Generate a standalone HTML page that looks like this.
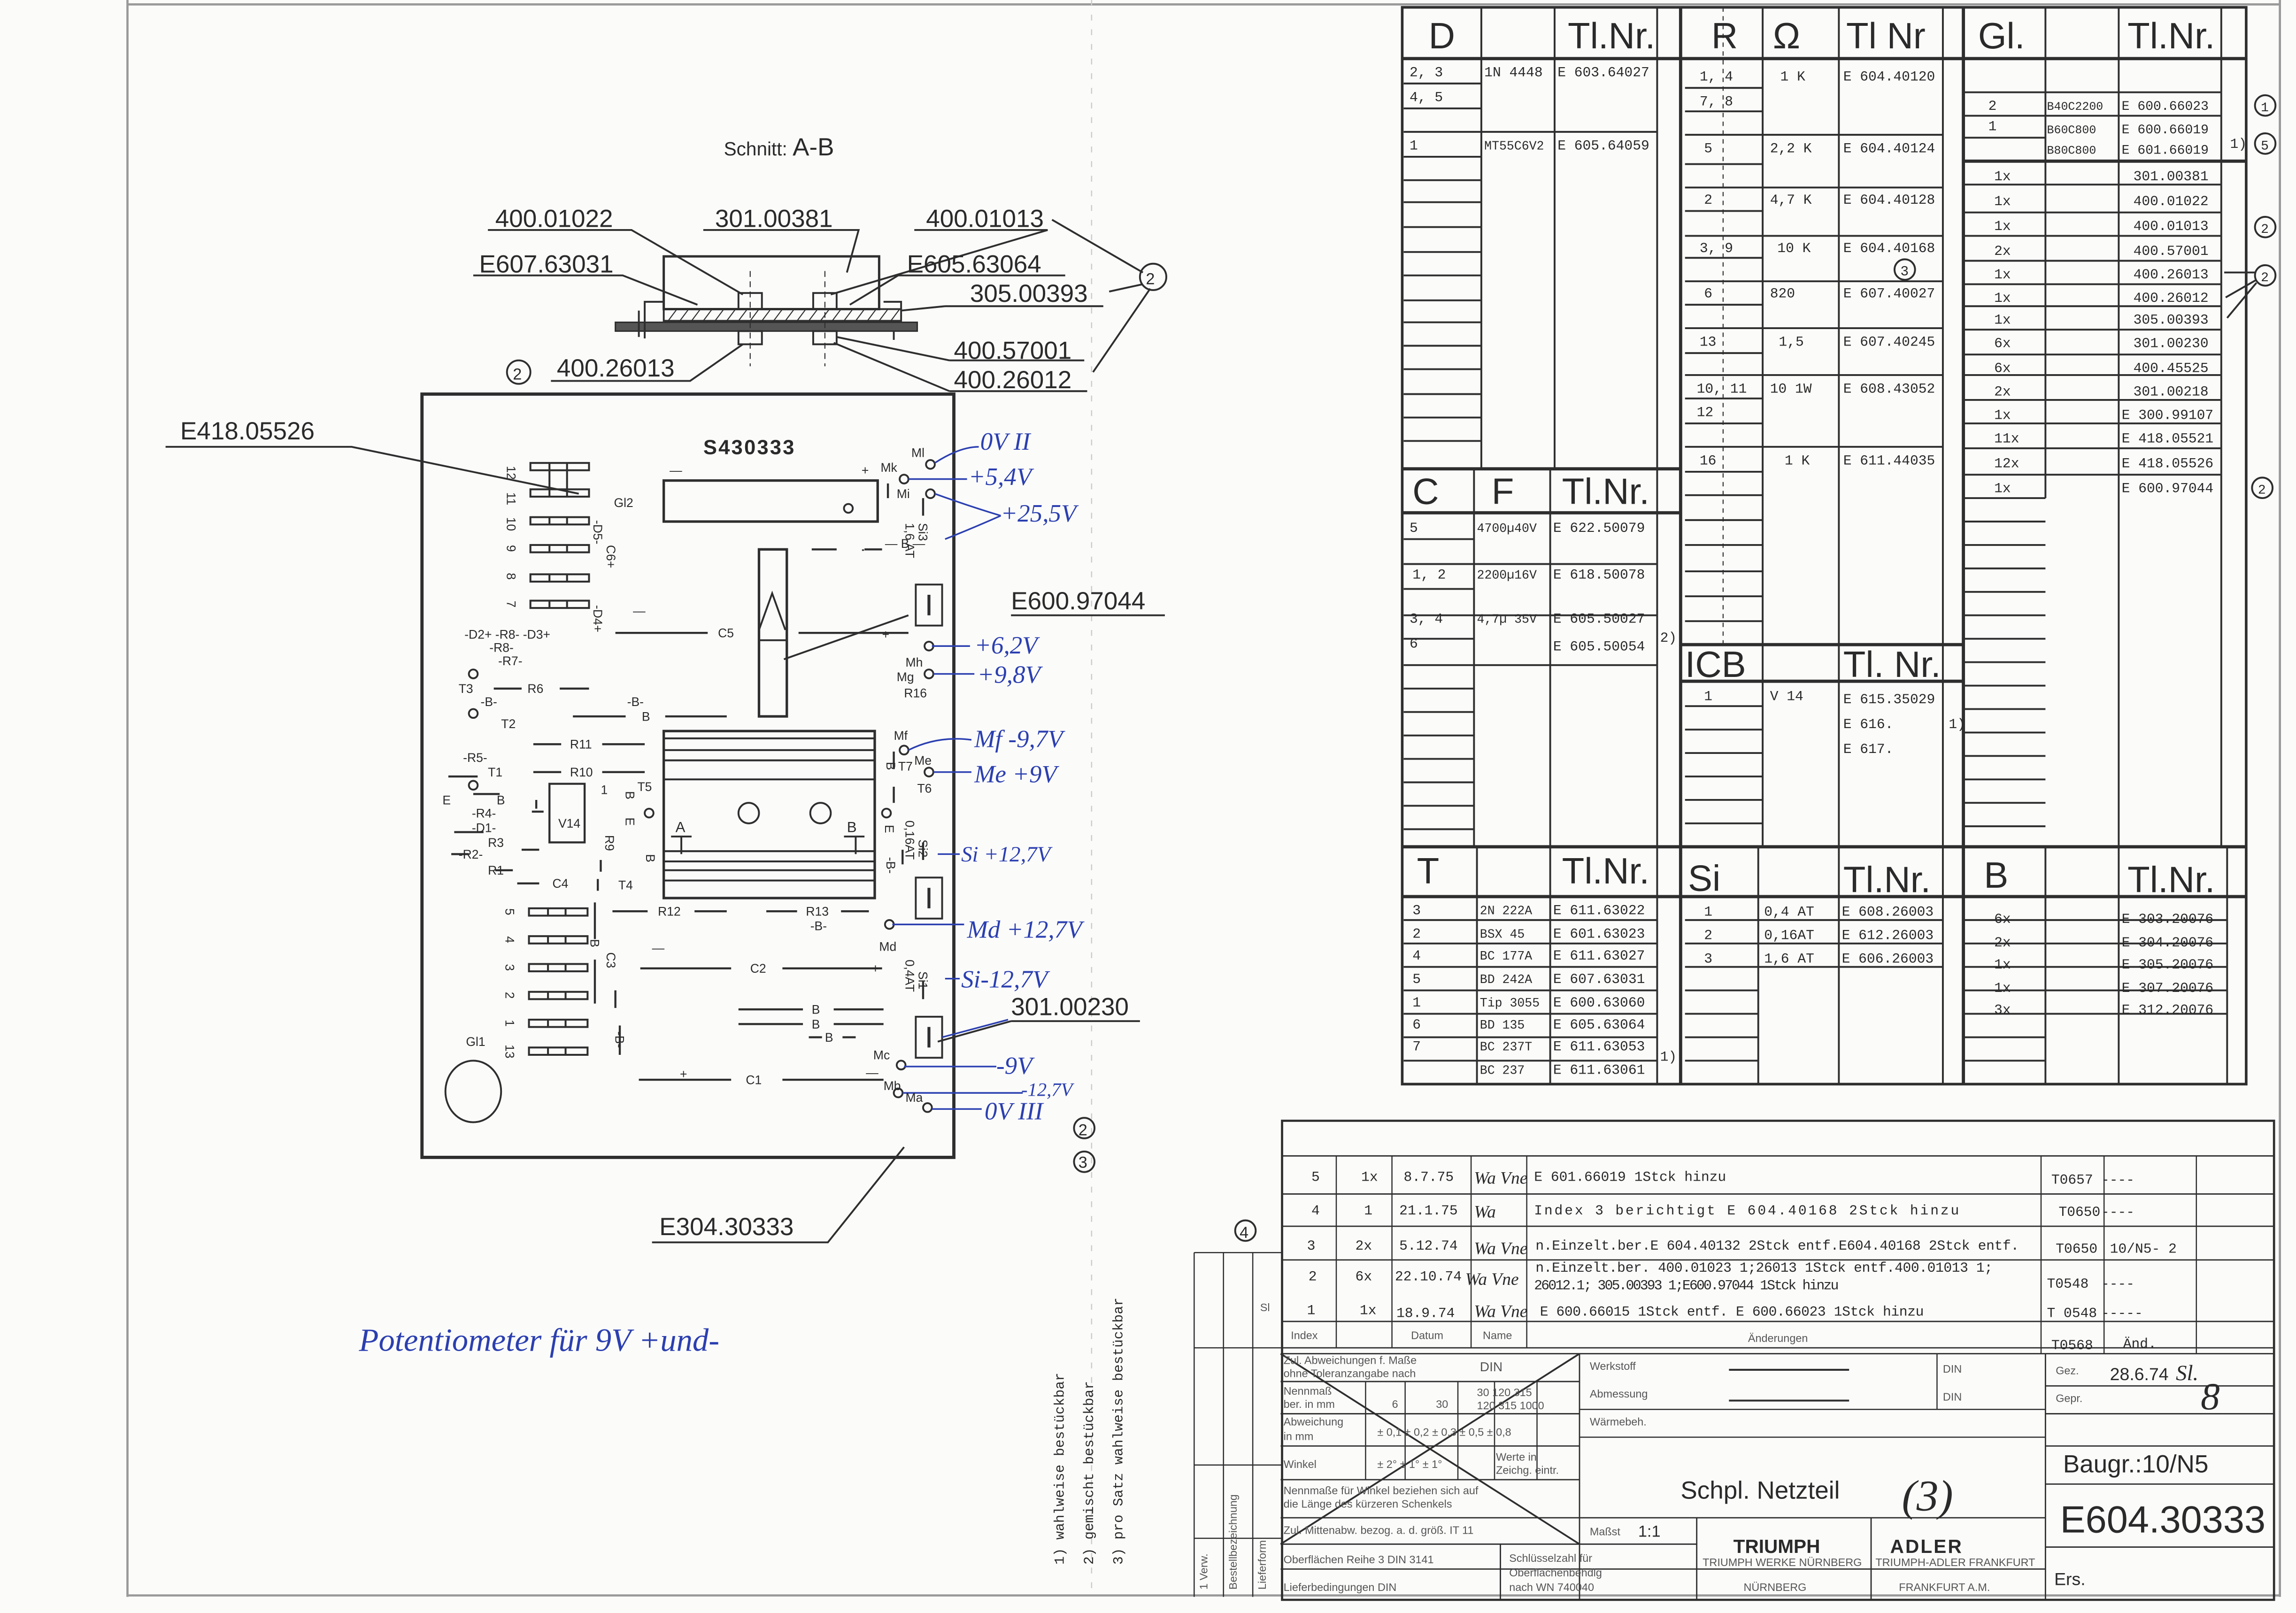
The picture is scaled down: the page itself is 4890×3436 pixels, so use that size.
<!DOCTYPE html>
<html><head><meta charset="utf-8"><style>
html,body{margin:0;padding:0;background:#fbfbfa;}
svg{display:block}
text{font-family:"Liberation Sans",sans-serif;fill:#2a2a2a}
.m text,text.m{font-family:"Liberation Mono",monospace}
.m{font-size:9.5px}
.h{font-size:25px}
.b text{fill:#2b3fb0;font-family:"Liberation Serif",serif;font-style:italic}
.s{font-size:7.5px}
.s text{fill:#555}
.ser text{font-family:"Liberation Serif",serif;font-style:italic}
</style></head><body>
<svg width="4890" height="3436" viewBox="0 0 1567 1101" preserveAspectRatio="none" xmlns="http://www.w3.org/2000/svg">
<rect width="1567" height="1101" fill="#fbfbfa"/>
<g fill="none" stroke="#2e2e2e" stroke-width="1.25">
<path d="M87 0V1090M87 1089H1556M1556 0V1090M87 3H1556" stroke="#999" stroke-width="1.5"/>
<path d="M745 0V1088" stroke="#ccc" stroke-width="0.8" stroke-dasharray="4 6"/>
<rect x="957" y="5" width="576" height="735" stroke-width="1.8"/>
<path d="M957 40H1533M1147 5V740M1340 5V740M957 320H1147M1147 440H1340M957 578H1533M1340 110H1533" stroke-width="2.2"/>
<path d="M1011 5V320M1061 5V320M1131 5V320"/>
<path d="M958 57H1011M958 74H1011M958 90H1131M958 107H1011M958 123H1011M958 138H1011M958 155H1011M958 172H1011M958 188H1011M958 205H1011M958 220H1011M958 236H1011M958 252H1011M958 269H1011M958 285H1011M958 301H1011"/>
<path d="M1176 5V440" stroke-dasharray="3 3" stroke-width="0.7"/>
<path d="M1203 5V440M1255 5V440M1326 5V440"/>
<path d="M1150 92H1326M1150 128H1326M1150 161H1326M1150 192H1326M1150 224H1326M1150 256H1326M1150 305H1326"/>
<path d="M1150 60H1203M1150 76H1203M1150 112H1203M1150 144H1203M1150 176H1203M1150 208H1203M1150 241H1203M1150 272H1203M1150 289H1203M1150 322H1203M1150 338H1203M1150 355H1203M1150 372H1203M1150 390H1203M1150 407H1203M1150 424H1203"/>
<path d="M1396 5V340M1446 5V578M1516 5V578"/>
<path d="M1340 63H1516M1340 79H1516M1340 94H1396M1340 126H1516M1340 145H1516M1340 161H1516M1340 178H1516M1340 194H1516M1340 209H1516M1340 225H1516M1340 242H1516M1340 256H1516M1340 273H1516M1340 289H1516M1340 306H1516M1340 324H1516M1340 340H1396"/>
<path d="M1340 356H1396M1340 372H1396M1340 388H1396M1340 404H1396M1340 420H1396M1340 436H1396M1340 452H1396M1340 468H1396M1340 484H1396M1340 500H1396M1340 516H1396M1340 532H1396M1340 548H1396M1340 564H1396"/>
<path d="M957 350H1147" stroke-width="2.2"/>
<path d="M1006 320V578M1058 320V578M1131 320V578"/>
<path d="M958 368H1006M958 385H1131M958 402H1006M958 420H1131M958 436H1006M958 454H1131M958 470H1006M958 486H1006M958 502H1006M958 518H1006M958 534H1006M958 550H1006M958 566H1006"/>
<path d="M1147 465H1340" stroke-width="2.2"/>
<path d="M1203 440V578M1255 440V578M1326 440V578"/>
<path d="M1150 482H1203M1150 498H1203M1150 514H1203M1150 530H1203M1150 546H1203M1150 562H1203"/>
<path d="M957 612H1533" stroke-width="2.2"/>
<path d="M1008 578V740M1058 578V740M1131 578V740M1200 578V740M1255 578V740M1326 578V740M1396 578V740M1446 578V740M1520 578V740"/>
<path d="M958 628H1131M958 644H1131M958 660H1131M958 676H1131M958 692H1131M958 708H1131M958 724H1131"/>
<path d="M1150 628H1326M1150 644H1326M1150 660H1326M1150 676H1200M1150 692H1200M1150 708H1200M1150 724H1200"/>
<path d="M1340 628H1520M1340 644H1520M1340 660H1520M1340 676H1520M1340 692H1520M1340 708H1396M1340 724H1396"/>
<circle cx="1546" cy="72" r="7"/><circle cx="1546" cy="98" r="7"/><circle cx="1546" cy="155" r="7"/><circle cx="1546" cy="188" r="7"/><circle cx="1544" cy="333" r="7"/><circle cx="1300" cy="184" r="7"/>
<path d="M1518 186H1539M1519 203L1540 191M1520 217L1540 193"/>
<path d="M875 765H1552V1092H875Z" stroke-width="1.5"/>
<path d="M875 789H1552M875 815H1552M875 837H1552M875 860H1552M875 902H1552M875 920H1552M875 924H1552" stroke-width="0.9"/>
<path d="M912 789V920M950 789V920M1004 789V920M1042 789V920M1393 789V924M1436 789V924M1499 789V924" stroke-width="0.8"/>
<path d="M874 924L1078 1054M1078 924L874 1054" stroke-width="1.2"/>
<path d="M1078 924V1092M874 943H1078M874 965H1078M874 987H1078M874 1010H1078M874 1036H1396M874 1054H1158M874 1071H1158" stroke-width="0.9"/>
<path d="M932 943V1010M959 943V1010M995 943V1010M1020 943V1010M1049 943V1010" stroke-width="0.8"/>
<path d="M1078 962H1396M1078 981H1396M1322 924V962" stroke-width="0.8"/>
<path d="M1180 935H1262M1180 956H1262" stroke-width="1.3"/>
<path d="M1024 1054V1092M1158 1036V1092M1277 1036V1092M1396 924V1092M1158 1071H1396" stroke-width="0.9"/>
<path d="M1396 946H1552M1396 965H1552M1396 987H1552M1396 1013H1552M1396 1056H1552" stroke-width="0.9"/>
<path d="M815 855H875M815 855V1090M835 855V1090M855 855V1090M815 920H875M815 1000H875M815 1050H875" stroke-width="0.8"/>
<circle cx="850" cy="840" r="7"/>
<rect x="453" y="175" width="147" height="36" stroke-width="1.6"/>
<rect x="453" y="211" width="162" height="8"/>
<path d="M456 219l6-8M464 219l6-8M472 219l6-8M480 219l6-8M488 219l6-8M496 219l6-8M504 219l6-8M512 219l6-8M520 219l6-8M528 219l6-8M536 219l6-8M544 219l6-8M552 219l6-8M560 219l6-8M568 219l6-8M576 219l6-8M584 219l6-8M592 219l6-8M600 219l6-8M608 219l6-8" stroke-width="0.7"/>
<rect x="420" y="220" width="206" height="6" fill="#555" stroke-width="1"/>
<path d="M453 206H440V231M436 212V230M603 206H615V212M610 226V232"/>
<rect x="504" y="200" width="16" height="11"/><rect x="555" y="200" width="16" height="11"/>
<rect x="504" y="226" width="16" height="9"/><rect x="555" y="226" width="16" height="9"/>
<path d="M512 185V250M563 185V250" stroke-dasharray="4 3" stroke-width="0.7"/>
<path d="M333 157H431L507 201M480 157H586L578 186M624 157H715L567 201M718 150L780 186M323 188H425L476 208M613 188H727M613 188L580 208M645 209H753M645 209L615 212M757 199L780 194M648 246H740M648 246L571 230M648 267H742M648 267L569 234M746 254L785 197M376 260H471L507 235"/>
<circle cx="787" cy="189" r="9"/><circle cx="354" cy="254" r="8"/>
<rect x="288" y="269" width="363" height="521" stroke-width="2.2"/>
<rect x="453" y="328" width="146" height="28" stroke-width="1.7"/>
<circle cx="579" cy="347" r="3"/>
<rect x="518" y="375" width="19" height="114" stroke-width="1.7"/>
<path d="M518 430L527 405L536 430M518 437H537"/>
<rect x="453" y="499" width="144" height="114" stroke-width="1.7"/>
<path d="M453 504H597M453 512H597M453 519H597M453 532H597M453 581H597M453 588H597M453 594H597M453 601H597" stroke-width="1.3"/>
<circle cx="511" cy="555" r="7"/><circle cx="560" cy="555" r="7"/>
<path d="M458 571H472M576 571H590M465 583V571M584 583V571"/>
<g stroke-width="1.3">
<rect x="362" y="316" width="40" height="5"/><rect x="362" y="334" width="40" height="5"/><rect x="362" y="353" width="40" height="5"/><rect x="362" y="372" width="40" height="5"/><rect x="362" y="392" width="40" height="5"/><rect x="362" y="410" width="40" height="5"/>
<rect x="361" y="620" width="40" height="5"/><rect x="361" y="639" width="40" height="5"/><rect x="361" y="658" width="40" height="5"/><rect x="361" y="677" width="40" height="5"/><rect x="361" y="696" width="40" height="5"/><rect x="361" y="715" width="40" height="5"/>
<path d="M375 316v23M387 316v23M375 353v5M387 353v5M375 372v5M387 372v5M375 392v5M387 392v5M375 410v5M387 410v5M374 620v5M386 620v5M374 639v5M386 639v5M374 658v5M386 658v5M374 677v5M386 677v5M374 696v5M386 696v5M374 715v5M386 715v5"/>
</g>
<ellipse cx="323" cy="745" rx="19" ry="21"/>
<rect x="625" y="399" width="18" height="28"/><rect x="625" y="599" width="18" height="28"/><rect x="625" y="694" width="18" height="28"/>
<path d="M634 406V420M634 606V620M634 701V715" stroke-width="2"/>
<circle cx="635" cy="317" r="3"/><circle cx="617" cy="327" r="3"/><circle cx="635" cy="337" r="3"/><circle cx="634" cy="441" r="3"/><circle cx="634" cy="460" r="3"/><circle cx="617" cy="512" r="3"/><circle cx="634" cy="527" r="3"/><circle cx="607" cy="631" r="3"/><circle cx="615" cy="727" r="3"/><circle cx="613" cy="746" r="3"/><circle cx="633" cy="756" r="3"/>
<circle cx="443" cy="555" r="3"/><circle cx="605" cy="555" r="3"/><circle cx="323" cy="460" r="3"/><circle cx="323" cy="487" r="3"/><circle cx="323" cy="536" r="3"/>
<g stroke-width="1.4">
<path d="M420 432H483M545 432H620M337 470H356M382 470H402M364 508H383M411 508H440M364 527H383M411 527H440M437 661H499M534 661H602M436 737H499M534 737H603M418 622H442M474 622H496M523 622H544M574 622H593M504 689H548M569 689H603M504 699H548M569 699H603M552 708H561M575 708H584M554 375H571M590 375H602M391 489H427M454 489H496M353 603H368M406 616V641M406 655V685M420 676V688M423 700V720M630 340V352M630 575V587M630 670V682M606 330V340M589 375V376M306 530H326M310 568H330M308 583H320M338 594H350M356 580H368M323 542H341M363 554H371M366 546V552"/>
<path d="M375 535H399V575H375ZM410 587V595M408 600V608M610 513V525M610 537V548M616 580V590"/>
</g>
<path d="M620 420L535 450M690 420H795M690 697H778M690 697L640 711M113 305H240L395 337M445 848H565L617 783"/>
<circle cx="740" cy="770" r="7"/><circle cx="740" cy="793" r="7"/>
</g>
<g fill="none" stroke="#2b3fb0" stroke-width="1.1">
<path d="M638 316Q655 305 668 305M620 327H660M638 337Q660 345 683 352M645 368Q665 360 683 352M636 441H662M637 460H665M620 512Q640 502 663 505M637 527H663M640 583H655M609 631H658M645 668H655M643 708L688 696M617 728H680M616 746H698M636 757H670"/>
</g>
<g>
<text x="494" y="106" font-size="13">Schnitt: <tspan font-size="17">A-B</tspan></text>
<text x="338" y="155" font-size="17">400.01022</text>
<text x="488" y="155" font-size="17">301.00381</text>
<text x="632" y="155" font-size="17">400.01013</text>
<text x="327" y="186" font-size="17">E607.63031</text>
<text x="619" y="186" font-size="17">E605.63064</text>
<text x="662" y="206" font-size="17">305.00393</text>
<text x="651" y="245" font-size="17">400.57001</text>
<text x="651" y="265" font-size="17">400.26012</text>
<text x="380" y="257" font-size="17">400.26013</text>
<text x="782" y="194" font-size="11">2</text>
<text x="350" y="259" font-size="11">2</text>
<text x="123" y="300" font-size="17">E418.05526</text>
<text x="690" y="416" font-size="17">E600.97044</text>
<text x="690" y="693" font-size="17">301.00230</text>
<text x="450" y="843" font-size="17">E304.30333</text>
<text x="736" y="775" font-size="11">2</text><text x="736" y="797" font-size="11">3</text><text x="846" y="845" font-size="11">4</text>
<text x="480" y="310" font-size="14" font-weight="bold" letter-spacing="1">S430333</text>
<g font-size="8.5">
<text x="457" y="324">—</text><text x="588" y="324">+</text>
<text x="419" y="346">Gl2</text><text x="318" y="714">Gl1</text>
<text x="604" y="374">— B —</text>
<text x="602" y="436">+</text><text x="490" y="435">C5</text><text x="432" y="420">—</text>
<text x="317" y="436">-D2+ -R8- -D3+</text><text x="334" y="445">-R8-</text><text x="340" y="454">-R7-</text>
<text x="360" y="473">R6</text><text x="313" y="473">T3</text><text x="328" y="482">-B-</text><text x="342" y="497">T2</text>
<text x="428" y="482">-B-</text><text x="438" y="492">B</text>
<text x="389" y="511">R11</text><text x="389" y="530">R10</text>
<text x="316" y="520">-R5-</text><text x="333" y="530">T1</text><text x="302" y="549">E</text><text x="339" y="549">B</text>
<text x="322" y="558">-R4-</text><text x="322" y="568">-D1-</text><text x="333" y="578">R3</text><text x="313" y="586">-R2-</text><text x="333" y="597">R1</text>
<text x="377" y="606">C4</text><text x="381" y="565">V14</text><text x="435" y="540">T5</text><text x="410" y="542">1</text>
<text x="422" y="607">T4</text><text x="449" y="625">R12</text><text x="550" y="625">R13</text><text x="553" y="635">-B-</text>
<text x="512" y="664">C2</text><text x="554" y="692">B</text><text x="554" y="702">B</text><text x="563" y="711">B</text><text x="509" y="740">C1</text>
<text x="600" y="649">Md</text><text x="596" y="723">Mc</text><text x="603" y="744">Mb</text><text x="618" y="752">Ma</text>
<text x="622" y="312">Ml</text><text x="601" y="322">Mk</text><text x="612" y="340">Mi</text><text x="618" y="455">Mh</text><text x="612" y="465">Mg</text><text x="617" y="476">R16</text>
<text x="610" y="505">Mf</text><text x="613" y="526">T7</text><text x="624" y="522">Me</text><text x="626" y="541">T6</text>
<text x="461" y="568" font-size="10">A</text><text x="578" y="568" font-size="10">B</text>
<text x="464" y="736">+</text><text x="591" y="735">—</text><text x="595" y="664">+</text><text x="445" y="650">—</text>
</g>
<g font-size="8.5">
<text transform="translate(346,318) rotate(90)">12</text><text transform="translate(346,336) rotate(90)">11</text><text transform="translate(346,353) rotate(90)">10</text><text transform="translate(346,372) rotate(90)">9</text><text transform="translate(346,391) rotate(90)">8</text><text transform="translate(346,410) rotate(90)">7</text>
<text transform="translate(345,620) rotate(90)">5</text><text transform="translate(345,639) rotate(90)">4</text><text transform="translate(345,658) rotate(90)">3</text><text transform="translate(345,677) rotate(90)">2</text><text transform="translate(345,696) rotate(90)">1</text><text transform="translate(345,713) rotate(90)">13</text>
<text transform="translate(405,355) rotate(90)">-D5-</text><text transform="translate(414,372) rotate(90)">C6+</text><text transform="translate(405,413) rotate(90)">-D4+</text>
<text transform="translate(414,650) rotate(90)">C3</text><text transform="translate(403,641) rotate(90)">B</text><text transform="translate(420,704) rotate(90)">-B-</text>
<text transform="translate(427,540) rotate(90)">B</text><text transform="translate(427,558) rotate(90)">E</text><text transform="translate(413,570) rotate(90)">R9</text><text transform="translate(441,583) rotate(90)">B</text>
<text transform="translate(605,520) rotate(90)">B</text><text transform="translate(605,585) rotate(90)">-B-</text><text transform="translate(604,563) rotate(90)">E</text>
<text transform="translate(627,357) rotate(90)">Si3</text><text transform="translate(618,357) rotate(90)">1,6 AT</text>
<text transform="translate(627,573) rotate(90)">Si2</text><text transform="translate(618,560) rotate(90)">0,16AT</text>
<text transform="translate(627,663) rotate(90)">Si1</text><text transform="translate(618,655) rotate(90)">0,4AT</text>
</g>
<g class="b" font-size="17">
<text x="669" y="307">0V II</text><text x="661" y="331">+5,4V</text><text x="683" y="356">+25,5V</text>
<text x="665" y="446">+6,2V</text><text x="667" y="466">+9,8V</text><text x="665" y="510">Mf -9,7V</text><text x="665" y="534">Me +9V</text>
<text x="656" y="588" font-size="15">Si +12,7V</text><text x="660" y="640">Md +12,7V</text><text x="656" y="674">Si-12,7V</text>
<text x="680" y="733">-9V</text><text x="697" y="748" font-size="13">-12,7V</text><text x="672" y="764">0V III</text>
<text x="245" y="922" font-size="22">Potentiometer für    9V +und-</text>
</g>
<g class="m" font-size="10">
<text transform="translate(726,1068) rotate(-90)">1) wahlweise bestückbar</text>
<text transform="translate(746,1068) rotate(-90)">2) gemischt bestückbar</text>
<text transform="translate(766,1068) rotate(-90)">3) pro Satz wahlweise bestückbar</text>
</g>
<g class="h">
<text x="975" y="33">D</text><text x="1070" y="33">Tl.Nr.</text><text x="1168" y="33">R</text><text x="1210" y="33">Ω</text><text x="1260" y="33">Tl Nr</text><text x="1350" y="33">Gl.</text><text x="1452" y="33">Tl.Nr.</text>
<text x="964" y="344">C</text><text x="1018" y="344">F</text><text x="1066" y="344">Tl.Nr.</text>
<text x="1150" y="462">ICB</text><text x="1258" y="462">Tl. Nr.</text>
<text x="967" y="603">T</text><text x="1066" y="603">Tl.Nr.</text><text x="1152" y="608">Si</text><text x="1258" y="609">Tl.Nr.</text><text x="1354" y="606">B</text><text x="1452" y="609">Tl.Nr.</text>
</g>
<g class="m">
<text x="962" y="52">2, 3</text><text x="1013" y="52">1N 4448</text><text x="1063" y="52">E 603.64027</text>
<text x="962" y="69">4, 5</text><text x="962" y="102">1</text><text x="1013" y="102" font-size="8.5">MT55C6V2</text><text x="1063" y="102">E 605.64059</text>
<text x="1160" y="55">1, 4</text><text x="1215" y="55">1 K</text><text x="1258" y="55">E 604.40120</text><text x="1160" y="72">7, 8</text>
<text x="1163" y="104">5</text><text x="1208" y="104">2,2 K</text><text x="1258" y="104">E 604.40124</text>
<text x="1163" y="139">2</text><text x="1208" y="139">4,7 K</text><text x="1258" y="139">E 604.40128</text>
<text x="1160" y="172">3, 9</text><text x="1213" y="172">10 K</text><text x="1258" y="172">E 604.40168</text><text x="1297" y="188">3</text>
<text x="1163" y="203">6</text><text x="1208" y="203">820</text><text x="1258" y="203">E 607.40027</text>
<text x="1160" y="236">13</text><text x="1214" y="236">1,5</text><text x="1258" y="236">E 607.40245</text>
<text x="1158" y="268">10, 11</text><text x="1208" y="268">10  1W</text><text x="1258" y="268">E 608.43052</text><text x="1158" y="284">12</text>
<text x="1160" y="317">16</text><text x="1218" y="317">1 K</text><text x="1258" y="317">E 611.44035</text>
<text x="1357" y="75">2</text><text x="1397" y="75" font-size="8">B40C2200</text><text x="1448" y="75" font-size="9">E 600.66023</text>
<text x="1357" y="89">1</text><text x="1397" y="91" font-size="8">B60C800</text><text x="1448" y="91" font-size="9">E 600.66019</text><text x="1397" y="105" font-size="8">B80C800</text><text x="1448" y="105" font-size="9">E 601.66019</text><text x="1522" y="101">1)</text>
<text x="1361" y="123">1x</text><text x="1456" y="123">301.00381</text>
<text x="1361" y="140">1x</text><text x="1456" y="140">400.01022</text>
<text x="1361" y="157">1x</text><text x="1456" y="157">400.01013</text>
<text x="1361" y="174">2x</text><text x="1456" y="174">400.57001</text>
<text x="1361" y="190">1x</text><text x="1456" y="190">400.26013</text>
<text x="1361" y="206">1x</text><text x="1456" y="206">400.26012</text>
<text x="1361" y="221">1x</text><text x="1456" y="221">305.00393</text>
<text x="1361" y="237">6x</text><text x="1456" y="237">301.00230</text>
<text x="1361" y="254">6x</text><text x="1456" y="254">400.45525</text>
<text x="1361" y="270">2x</text><text x="1456" y="270">301.00218</text>
<text x="1361" y="286">1x</text><text x="1448" y="286">E 300.99107</text>
<text x="1361" y="302">11x</text><text x="1448" y="302">E 418.05521</text>
<text x="1361" y="319">12x</text><text x="1448" y="319">E 418.05526</text>
<text x="1361" y="336">1x</text><text x="1448" y="336">E 600.97044</text>
<text x="1543" y="76" font-size="9">1</text><text x="1543" y="102" font-size="9">5</text><text x="1543" y="159" font-size="9">2</text><text x="1543" y="192" font-size="9">2</text><text x="1541" y="337" font-size="9">2</text>
<text x="962" y="363">5</text><text x="1008" y="363" font-size="8.5">4700µ40V</text><text x="1060" y="363">E 622.50079</text>
<text x="964" y="395">1, 2</text><text x="1008" y="395" font-size="8.5">2200µ16V</text><text x="1060" y="395">E 618.50078</text>
<text x="962" y="425">3, 4</text><text x="1008" y="425" font-size="8.5">4,7µ 35V</text><text x="1060" y="425">E 605.50027</text>
<text x="962" y="442">6</text><text x="1060" y="444">E 605.50054</text><text x="1133" y="438">2)</text>
<text x="1163" y="478">1</text><text x="1208" y="478">V 14</text><text x="1258" y="480">E 615.35029</text><text x="1258" y="497">E 616.</text><text x="1258" y="514">E 617.</text><text x="1330" y="497">1)</text>
<text x="964" y="624">3</text><text x="1010" y="624" font-size="8.5">2N 222A</text><text x="1060" y="624">E 611.63022</text>
<text x="964" y="640">2</text><text x="1010" y="640" font-size="8.5">BSX 45</text><text x="1060" y="640">E 601.63023</text>
<text x="964" y="655">4</text><text x="1010" y="655" font-size="8.5">BC 177A</text><text x="1060" y="655">E 611.63027</text>
<text x="964" y="671">5</text><text x="1010" y="671" font-size="8.5">BD 242A</text><text x="1060" y="671">E 607.63031</text>
<text x="964" y="687">1</text><text x="1010" y="687" font-size="8.5">Tip 3055</text><text x="1060" y="687">E 600.63060</text>
<text x="964" y="702">6</text><text x="1010" y="702" font-size="8.5">BD 135</text><text x="1060" y="702">E 605.63064</text>
<text x="964" y="717">7</text><text x="1010" y="717" font-size="8.5">BC 237T</text><text x="1060" y="717">E 611.63053</text>
<text x="1010" y="733" font-size="8.5">BC 237</text><text x="1060" y="733">E 611.63061</text><text x="1133" y="724">1)</text>
<text x="1163" y="625">1</text><text x="1204" y="625">0,4 AT</text><text x="1257" y="625">E 608.26003</text>
<text x="1163" y="641">2</text><text x="1204" y="641">0,16AT</text><text x="1257" y="641">E 612.26003</text>
<text x="1163" y="657">3</text><text x="1204" y="657">1,6 AT</text><text x="1257" y="657">E 606.26003</text>
<text x="1361" y="630">6x</text><text x="1448" y="630">E 303.20076</text>
<text x="1361" y="646">2x</text><text x="1448" y="646">E 304.20076</text>
<text x="1361" y="661">1x</text><text x="1448" y="661">E 305.20076</text>
<text x="1361" y="677">1x</text><text x="1448" y="677">E 307.20076</text>
<text x="1361" y="692">3x</text><text x="1448" y="692">E 312.20076</text>
</g>
<g class="m" font-size="9.5">
<text x="895" y="806">5</text><text x="929" y="806">1x</text><text x="958" y="806">8.7.75</text><text x="1047" y="806">E 601.66019 1Stck hinzu</text><text x="1400" y="808">T0657</text><text x="1434" y="808">----</text>
<text x="895" y="829">4</text><text x="931" y="829">1</text><text x="955" y="829">21.1.75</text><text x="1047" y="829" textLength="290">Index 3 berichtigt E 604.40168  2Stck hinzu</text><text x="1405" y="830">T0650</text><text x="1434" y="830">----</text>
<text x="892" y="853">3</text><text x="925" y="853">2x</text><text x="955" y="853">5.12.74</text><text x="1048" y="853" textLength="330">n.Einzelt.ber.E 604.40132 2Stck entf.E604.40168 2Stck entf.</text><text x="1403" y="855">T0650</text><text x="1440" y="855">10/N5- 2</text>
<text x="893" y="874">2</text><text x="925" y="874">6x</text><text x="952" y="874">22.10.74</text><text x="1048" y="868" textLength="312">n.Einzelt.ber. 400.01023 1;26013 1Stck entf.400.01013 1;</text><text x="1047" y="880" textLength="208">26012.1; 305.00393 1;E600.97044 1Stck hinzu</text><text x="1397" y="879">T0548</text><text x="1434" y="879">----</text>
<text x="892" y="897">1</text><text x="928" y="897">1x</text><text x="953" y="899">18.9.74</text><text x="1051" y="898" textLength="262">E 600.66015 1Stck entf. E 600.66023 1Stck hinzu</text><text x="1397" y="899">T 0548</text><text x="1434" y="899">-----</text>
<text x="1400" y="921">T0568</text><text x="1449" y="920">Änd.</text>
</g>
<g class="ser" font-size="12">
<text x="1006" y="808">Wa Vne</text><text x="1006" y="831">Wa</text><text x="1006" y="856">Wa Vne</text><text x="1000" y="877">Wa Vne</text><text x="1006" y="899">Wa Vne</text>
</g>
<g class="s">
<text x="881" y="914">Index</text><text x="963" y="914">Datum</text><text x="1012" y="914">Name</text><text x="1193" y="916">Änderungen</text>
<text x="876" y="931">Zul. Abweichungen f. Maße</text><text x="876" y="940">ohne Toleranzangabe nach</text><text x="1010" y="936" font-size="9">DIN</text>
<text x="876" y="952">Nennmaß</text><text x="876" y="961">ber. in mm</text><text x="950" y="961">6</text><text x="980" y="961">30</text><text x="1008" y="953">30 120 315</text><text x="1008" y="962">120 315 1000</text>
<text x="876" y="973">Abweichung</text><text x="876" y="983">in mm</text><text x="940" y="980">± 0,1  ± 0,2  ± 0,3  ± 0,5  ± 0,8</text>
<text x="876" y="1002">Winkel</text><text x="940" y="1002">± 2°   ± 1°   ± 1°</text><text x="1021" y="997">Werte in</text><text x="1021" y="1006">Zeichg. eintr.</text>
<text x="876" y="1020">Nennmaße für Winkel beziehen sich auf</text><text x="876" y="1029">die Länge des kürzeren Schenkels</text>
<text x="876" y="1047">Zul. Mittenabw. bezog. a. d. größ.  IT 11</text>
<text x="876" y="1067">Oberflächen Reihe 3 DIN 3141</text><text x="876" y="1086">Lieferbedingungen   DIN</text>
<text x="1030" y="1066">Schlüsselzahl für</text><text x="1030" y="1076">Oberflächenbehdlg</text><text x="1030" y="1086">nach WN 740040</text>
<text x="1085" y="935">Werkstoff</text><text x="1085" y="954">Abmessung</text><text x="1085" y="973">Wärmebeh.</text><text x="1326" y="937">DIN</text><text x="1326" y="956">DIN</text>
<text x="1403" y="938">Gez.</text><text x="1403" y="957">Gepr.</text><text x="1085" y="1048">Maßst</text>
<text x="1162" y="1069">TRIUMPH WERKE NÜRNBERG</text><text x="1280" y="1069">TRIUMPH-ADLER FRANKFURT</text>
<text x="1190" y="1086">NÜRNBERG</text><text x="1296" y="1086">FRANKFURT A.M.</text>
<text transform="translate(824,1085) rotate(-90)">1 Verw.</text><text transform="translate(844,1085) rotate(-90)">Bestellbezeichnung</text><text transform="translate(864,1085) rotate(-90)">Lieferform</text><text x="860" y="895">Sl</text>
</g>
<text x="1118" y="1049" font-size="11">1:1</text>
<text x="1440" y="942" font-size="12">28.6.74</text>
<g class="ser"><text x="1485" y="942" font-size="15">Sl.</text><text x="1502" y="962" font-size="26">8</text><text x="1298" y="1031" font-size="30">(3)</text></g>
<text x="1147" y="1023" font-size="17">Schpl. Netzteil</text>
<text x="1183" y="1060" font-size="13" font-weight="bold">TRIUMPH</text>
<text x="1290" y="1060" font-size="13" font-weight="bold" letter-spacing="1">ADLER</text>
<text x="1408" y="1005" font-size="17">Baugr.:10/N5</text>
<text x="1406" y="1046" font-size="26">E604.30333</text>
<text x="1402" y="1082" font-size="12">Ers.</text>
</g>
</svg>
</body></html>
